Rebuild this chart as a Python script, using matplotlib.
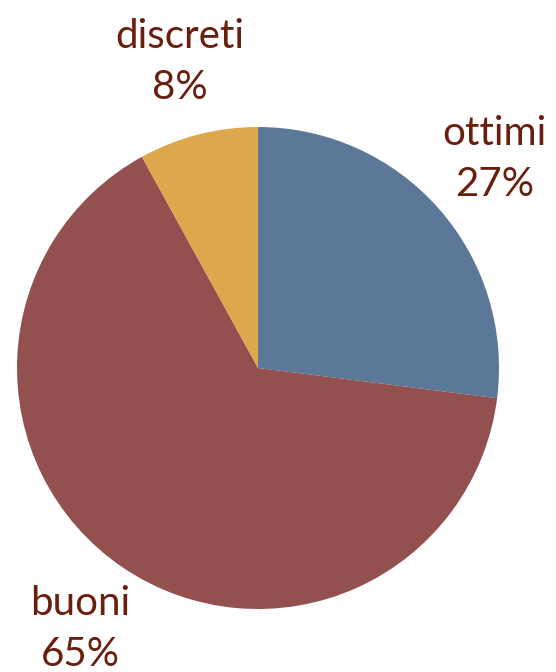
import matplotlib.pyplot as plt

# giudizi raccolti, in ordine orario a partire dalle ore 12
categorie = ["ottimi", "buoni", "discreti"]
percentuali = [27, 65, 8]
colori = ["#5b7898", "#92504f", "#dba84c"]
colore_testo = "#6a1e0e"

fig = plt.figure(figsize=(5.56, 6.72), dpi=100)
ax = fig.add_axes([0, 0, 1, 1])

etichette = [f"{c}\n{p}%" for c, p in zip(categorie, percentuali)]
wedges, testi = ax.pie(percentuali, labels=etichette, colors=colori,
                       startangle=90, counterclock=False,
                       center=(258, 304), radius=241, labeldistance=1.31,
                       frame=True,
                       textprops=dict(color=colore_testo, fontsize=29,
                                      family="Lato", linespacing=1.45))
for t in testi:
    t.set_ha("center")
    t.set_va("center")

ax.set_xlim(0, 556)
ax.set_ylim(0, 672)
ax.set_aspect("equal")
ax.axis("off")

fig.savefig("out.png", dpi=100)
